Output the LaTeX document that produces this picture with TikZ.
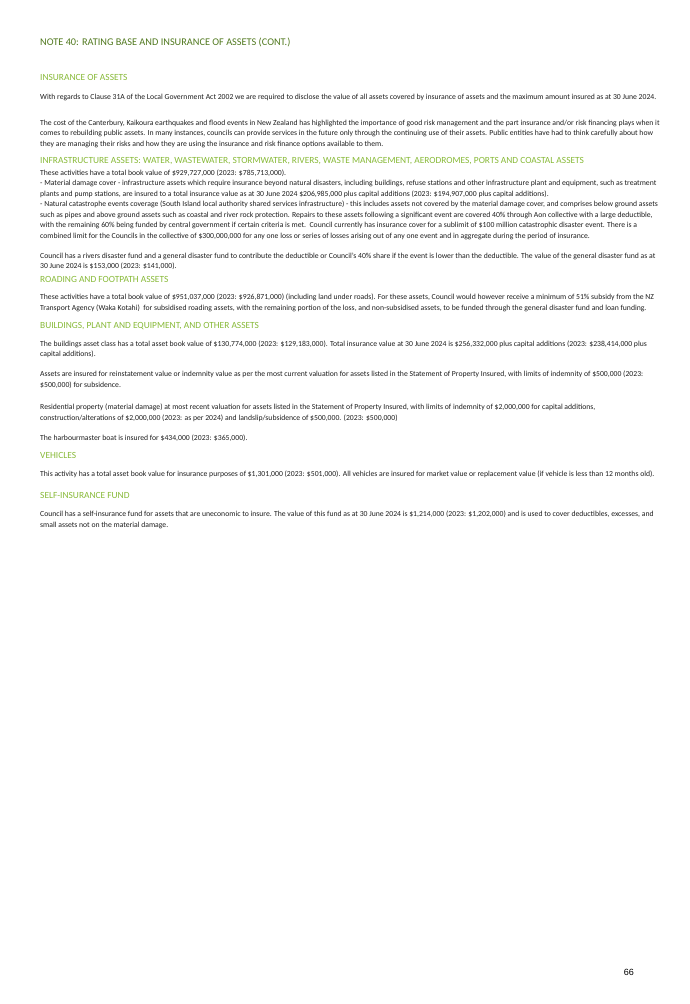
\documentclass[tikz,border=0pt]{standalone}
\usepackage{fontspec}
\setmainfont{Carlito}
\newfontfamily\arialf{Liberation Sans}
\definecolor{titlegreen}{RGB}{80,120,30}
\definecolor{headgreen}{RGB}{135,185,55}
\definecolor{bodytext}{RGB}{30,30,30}
\begin{document}
\begin{tikzpicture}[x=1pt,y=-1pt,
  body/.style={anchor=west,inner sep=0pt,font=\fontsize{7.7}{9}\selectfont,text=bodytext},
  head/.style={anchor=west,inner sep=0pt,font=\fontsize{9.4}{11}\selectfont,text=headgreen},
  title/.style={anchor=west,inner sep=0pt,font=\fontsize{10.3}{12}\selectfont,text=titlegreen}]
\useasboundingbox (0,0) rectangle (689,1004);
\node[title] (t) at (40,42) {NOTE 40: RATING BASE AND INSURANCE OF ASSETS (CONT.)};
\node[head] (h1) at (40,77) {INSURANCE OF ASSETS};
\node[body] (l1) at (40,97) {With regards to Clause 31A of the Local Government Act 2002 we are required to disclose the value of all assets covered by insurance of assets and the maximum amount insured as at 30 June 2024.};
\node[body] (l2) at (40,123) {The cost of the Canterbury, Kaikoura earthquakes and flood events in New Zealand has highlighted the importance of good risk management and the part insurance and/or risk financing plays when it};
\node[body] (l3) at (40,133.5) {comes to rebuilding public assets. In many instances, councils can provide services in the future only through the continuing use of their assets. Public entities have had to think carefully about how};
\node[body] (l4) at (40,144) {they are managing their risks and how they are using the insurance and risk finance options available to them.};
\node[head] (h2) at (40,161) {INFRASTRUCTURE ASSETS: WATER, WASTEWATER, STORMWATER, RIVERS, WASTE MANAGEMENT, AERODROMES, PORTS AND COASTAL ASSETS};
\node[body] (l5) at (40,173) {These activities have a total book value of \$929,727,000 (2023: \$785,713,000).};
\node[body] (l6) at (40,183.5) {- Material damage cover - infrastructure assets which require insurance beyond natural disasters, including buildings, refuse stations and other infrastructure plant and equipment, such as treatment};
\node[body] (l7) at (40,194) {plants and pump stations, are insured to a total insurance value as at 30 June 2024 \$206,985,000 plus capital additions (2023: \$194,907,000 plus capital additions).};
\node[body] (l8) at (40,204.5) {- Natural catastrophe events coverage (South Island local authority shared services infrastructure) - this includes assets not covered by the material damage cover, and comprises below ground assets};
\node[body] (l9) at (40,215) {such as pipes and above ground assets such as coastal and river rock protection. Repairs to these assets following a significant event are covered 40\% through Aon collective with a large deductible,};
\node[body] (l10) at (40,225.5) {with the remaining 60\% being funded by central government if certain criteria is met.\ \ Council currently has insurance cover for a sublimit of \$100 million catastrophic disaster event. There is a};
\node[body] (l11) at (40,236) {combined limit for the Councils in the collective of \$300,000,000 for any one loss or series of losses arising out of any one event and in aggregate during the period of insurance.};
\node[body] (l12) at (40,256) {Council has a rivers disaster fund and a general disaster fund to contribute the deductible or Council's 40\% share if the event is lower than the deductible. The value of the general disaster fund as at};
\node[body] (l13) at (40,266.5) {30 June 2024 is \$153,000 (2023: \$141,000).};
\node[head] (h3) at (40,279) {ROADING AND FOOTPATH ASSETS};
\node[body] (l14) at (40,297.5) {These activities have a total book value of \$951,037,000 (2023: \$926,871,000) (including land under roads). For these assets, Council would however receive a minimum of 51\% subsidy from the NZ};
\node[body] (l15) at (40,308) {Transport Agency (Waka Kotahi)\ \ for subsidised roading assets, with the remaining portion of the loss, and non-subsidised assets, to be funded through the general disaster fund and loan funding.};
\node[head] (h4) at (40,326) {BUILDINGS, PLANT AND EQUIPMENT, AND OTHER ASSETS};
\node[body] (l16) at (40,344) {The buildings asset class has a total asset book value of \$130,774,000 (2023: \$129,183,000). Total insurance value at 30 June 2024 is \$256,332,000 plus capital additions (2023: \$238,414,000 plus};
\node[body] (l17) at (40,354.5) {capital additions).};
\node[body] (l18) at (40,374.5) {Assets are insured for reinstatement value or indemnity value as per the most current valuation for assets listed in the Statement of Property Insured, with limits of indemnity of \$500,000 (2023:};
\node[body] (l19) at (40,385) {\$500,000) for subsidence.};
\node[body] (l20) at (40,407.5) {Residential property (material damage) at most recent valuation for assets listed in the Statement of Property Insured, with limits of indemnity of \$2,000,000 for capital additions,};
\node[body] (l21) at (40,418) {construction/alterations of \$2,000,000 (2023: as per 2024) and landslip/subsidence of \$500,000. (2023: \$500,000)};
\node[body] (l22) at (40,438.5) {The harbourmaster boat is insured for \$434,000 (2023: \$365,000).};
\node[head] (h5) at (40,455.5) {VEHICLES};
\node[body] (l23) at (40,474.5) {This activity has a total asset book value for insurance purposes of \$1,301,000 (2023: \$501,000). All vehicles are insured for market value or replacement value (if vehicle is less than 12 months old).};
\node[head] (h6) at (40,495.5) {SELF-INSURANCE FUND};
\node[body] (l24) at (40,514.5) {Council has a self-insurance fund for assets that are uneconomic to insure. The value of this fund as at 30 June 2024 is \$1,214,000 (2023: \$1,202,000) and is used to cover deductibles, excesses, and};
\node[body] (l25) at (40,525) {small assets not on the material damage.};
\node[anchor=east,inner sep=0pt,font=\arialf\fontsize{9}{10}\selectfont] (pg) at (634,972) {66};
\end{tikzpicture}
\end{document}
